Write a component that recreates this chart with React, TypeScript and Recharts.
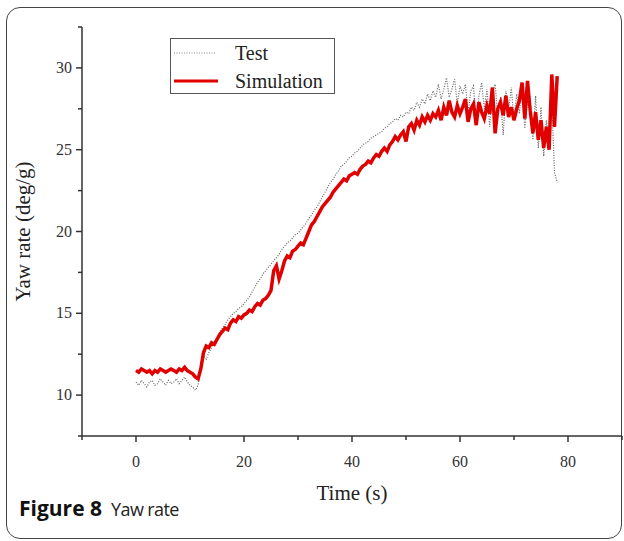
import React from 'react';
import { LineChart, Line, XAxis, YAxis } from 'recharts';

const time = [
  0, 0.5, 1, 1.5, 2, 2.5, 3, 3.5, 4, 4.5, 5, 5.5, 6, 6.5, 7, 7.5, 8, 8.5, 9, 9.5, 10,
  10.5, 11, 11.5, 12, 12.5, 13, 13.5, 14, 14.5, 15,
  15.5, 16, 16.5, 17, 17.5, 18, 18.5, 19, 19.5, 20,
  20.5, 21, 21.5, 22, 22.5, 23, 23.5, 24, 24.5, 25,
  25.5, 26, 26.5, 27, 27.5, 28, 28.5, 29, 29.5, 30,
  30.5, 31, 31.5, 32, 32.5, 33, 33.5, 34, 34.5, 35,
  35.5, 36, 36.5, 37, 37.5, 38, 38.5, 39, 39.5, 40,
  40.5, 41, 41.5, 42, 42.5, 43, 43.5, 44, 44.5, 45,
  45.5, 46, 46.5, 47, 47.5, 48, 48.5, 49, 49.5, 50,
  50.5, 51, 51.5, 52, 52.5, 53, 53.5, 54, 54.5, 55,
  55.5, 56, 56.5, 57, 57.5, 58, 58.5, 59, 59.5, 60,
  60.5, 61, 61.5, 62, 62.5, 63, 63.5, 64, 64.5, 65,
  65.5, 66, 66.5, 67, 67.5, 68, 68.5, 69, 69.5, 70,
  70.5, 71, 71.5, 72, 72.5, 73, 73.5, 74, 74.5, 75,
  75.5, 76, 76.5, 77, 77.5, 78,
];

const simulation = [
  11.5, 11.4, 11.6, 11.5, 11.4, 11.5, 11.3, 11.5, 11.4, 11.6, 11.5, 11.4, 11.5, 11.6, 11.5, 11.4, 11.6, 11.5, 11.7, 11.5, 11.4,
  11.3, 11.1, 11.0, 11.6, 12.6, 13.0, 12.9, 13.2, 13.1, 13.4,
  13.7, 13.9, 14.1, 14.0, 14.4, 14.6, 14.5, 14.8, 14.7, 14.9,
  15.0, 15.2, 15.1, 15.4, 15.6, 15.5, 15.8, 15.9, 16.1, 16.4,
  17.6, 17.9, 17.1, 17.6, 18.2, 18.5, 18.4, 18.8, 18.9, 19.1,
  19.3, 19.2, 19.6, 20.0, 20.4, 20.6, 20.9, 21.2, 21.5, 21.7,
  21.9, 22.1, 22.4, 22.6, 22.8, 23.0, 23.2, 23.1, 23.4, 23.5,
  23.6, 23.5, 23.8, 24.0, 24.1, 24.3, 24.2, 24.5, 24.7, 24.6,
  24.9, 25.1, 24.9, 25.3, 25.5, 25.8, 25.6, 25.9, 26.1, 25.5,
  26.4, 26.6, 26.2, 26.8, 26.5, 27.0, 26.7, 27.1, 26.8, 27.2,
  27.0, 27.4, 26.8, 27.6, 27.1, 28.0, 27.3, 27.0, 27.7, 27.2,
  27.6, 28.1, 26.7, 27.5, 27.8, 26.5, 27.9, 27.3, 26.9, 27.7,
  27.2, 28.8, 26.0, 27.5, 27.9, 27.1, 28.3, 27.0, 27.6, 26.8,
  27.5, 28.0, 29.1, 26.9, 29.2, 27.4, 26.0, 27.3, 25.6, 26.8,
  25.1, 26.4, 25.0, 29.6, 26.4, 29.5,
];

const test = [
  10.8, 10.6, 10.9, 10.7, 10.5, 10.8, 10.9, 10.6, 10.7, 11.0, 10.8, 10.6, 10.9, 10.7, 10.8, 11.0, 10.7, 10.9, 11.1, 10.8, 10.6,
  10.5, 10.3, 10.6, 11.8, 12.4, 12.2, 12.6, 12.9, 13.3, 13.5,
  13.8, 14.1, 14.3, 14.6, 14.8, 15.0, 15.1, 15.3, 15.4, 15.6,
  15.8, 16.0, 16.3, 16.6, 16.9, 17.1, 17.4, 17.6, 17.8, 18.0,
  18.2, 18.4, 18.6, 18.9, 19.1, 19.3, 19.4, 19.6, 19.8, 19.9,
  20.1, 20.3, 20.5, 20.8, 21.0, 21.3, 21.5, 21.8, 22.1, 22.4,
  22.7, 23.0, 23.2, 23.5, 23.7, 24.0, 24.1, 24.3, 24.5, 24.6,
  24.8, 24.9, 25.1, 25.3, 25.4, 25.5, 25.7, 25.8, 25.9, 26.0,
  26.1, 26.3, 26.4, 26.6, 26.7, 26.9, 26.8, 27.1, 27.0, 27.3,
  27.2, 27.6, 27.4, 27.9, 27.6, 28.1, 27.8, 28.4, 28.0, 28.6,
  28.2, 29.0, 28.1, 28.7, 29.4, 28.2, 28.7, 29.3, 27.8, 28.9,
  28.4, 29.0, 27.2, 28.6, 28.9, 26.6, 28.3, 29.1, 27.5, 28.7,
  26.4, 28.5, 29.0, 27.1, 28.2, 25.9, 28.6, 27.4, 28.8, 26.8,
  28.4, 27.2, 29.1, 26.3, 28.0, 27.5, 25.6, 28.3, 25.1, 27.6,
  24.6, 26.8, 25.3, 27.9, 23.6, 23.0,
];

const xTicks = [-10, 0, 10, 20, 30, 40, 50, 60, 70, 80, 90];
const xLabelled = [0, 20, 40, 60, 80];
const yTicks = [7.5, 10, 12.5, 15, 17.5, 20, 22.5, 25, 27.5, 30, 32.5];
const yLabelled = [10, 15, 20, 25, 30];
const seriesNames = ['Test', 'Simulation'];

const data = time.map((t, i) => ({ t, test: test[i], simulation: simulation[i] }));

const AXIS = '#333';
const TICK_FONT = '"Liberation Serif", "DejaVu Serif", serif';

const XTick = (props: any) => {
  const { x, y, payload } = props;
  const major = xLabelled.includes(payload.value);
  return (
    <g>
      <line x1={x} y1={y} x2={x} y2={y + (major ? 6 : 4)} stroke={AXIS} strokeWidth={1.5} />
      {major && (
        <text x={x} y={y + 31} textAnchor="middle" fontSize={16} fontFamily={TICK_FONT} fill="#333">
          {payload.value}
        </text>
      )}
    </g>
  );
};

const YTick = (props: any) => {
  const { x, y, payload } = props;
  const major = yLabelled.includes(payload.value);
  return (
    <g>
      <line x1={x} y1={y} x2={x - (major ? 6 : 4)} y2={y} stroke={AXIS} strokeWidth={1.5} />
      {major && (
        <text x={x - 10} y={y + 5} textAnchor="end" fontSize={16} fontFamily={TICK_FONT} fill="#333">
          {payload.value}
        </text>
      )}
    </g>
  );
};

const LegendBox = () => (
  <div
    style={{
      position: 'absolute',
      left: 170,
      top: 38,
      width: 165,
      height: 56,
      border: '1px solid #555',
      boxSizing: 'border-box',
      background: '#fff',
    }}
  >
    <svg width={165} height={56} style={{ position: 'absolute', left: 0, top: 0 }}>
      <line x1={3} y1={14} x2={45} y2={14} stroke="#888" strokeWidth={1} strokeDasharray="1 1.5" />
      <line x1={3} y1={42} x2={47} y2={42} stroke="#e00000" strokeWidth={3} />
      <text x={64} y={21} fontSize={20} fontFamily={TICK_FONT} fill="#222">{seriesNames[0]}</text>
      <text x={64} y={49} fontSize={20} fontFamily={TICK_FONT} fill="#222">{seriesNames[1]}</text>
    </svg>
  </div>
);

export default function App() {
  return (
    <div style={{ position: 'absolute', left: 0, top: 0, width: 624, height: 541, background: '#fff' }}>
      <div
        style={{
          position: 'absolute',
          left: 6,
          top: 7,
          width: 614,
          height: 530,
          border: '1px solid #444',
          borderRadius: 14,
        }}
      />
      <div style={{ position: 'absolute', left: 0, top: 0 }}>
        <LineChart width={624} height={541} data={data} margin={{ top: 27, right: 2, bottom: 55, left: 12 }}>
          <XAxis
            dataKey="t"
            type="number"
            domain={[-10, 90]}
            ticks={xTicks}
            interval={0}
            tickSize={0}
            tickMargin={0}
            tickLine={false}
            tick={<XTick />}
            height={50}
            axisLine={{ stroke: AXIS, strokeWidth: 1.5 }}
            allowDataOverflow
            label={{
              value: 'Time (s)',
              position: 'insideTop',
              offset: 49,
              style: { fontFamily: TICK_FONT, fontSize: 21, fill: '#222' },
            }}
          />
          <YAxis
            type="number"
            domain={[7.5, 32.5]}
            ticks={yTicks}
            interval={0}
            tickSize={0}
            tickMargin={0}
            tickLine={false}
            tick={<YTick />}
            width={70}
            axisLine={{ stroke: AXIS, strokeWidth: 1.5 }}
            allowDataOverflow
            label={{
              value: 'Yaw rate (deg/g)',
              angle: -90,
              position: 'insideLeft',
              offset: 11,
              style: { textAnchor: 'middle', fontFamily: TICK_FONT, fontSize: 21, fill: '#222' },
            }}
          />
          <Line
            type="linear"
            dataKey="test"
            name={seriesNames[0]}
            stroke="#666"
            strokeWidth={1.2}
            strokeDasharray="1 1.5"
            dot={false}
            isAnimationActive={false}
          />
          <Line
            type="linear"
            dataKey="simulation"
            name={seriesNames[1]}
            stroke="#e00000"
            strokeWidth={3.5}
            dot={false}
            isAnimationActive={false}
          />
        </LineChart>
      </div>
      <LegendBox />
      <div
        style={{
          position: 'absolute',
          left: 19,
          top: 498,
          lineHeight: '21px',
          fontFamily: '"Open Sans", "Noto Sans", sans-serif',
          fontSize: 21,
          color: '#111',
          whiteSpace: 'nowrap',
        }}
      >
        <span style={{ fontWeight: 700 }}>Figure 8</span>
        <span style={{ marginLeft: 9, fontSize: 18, letterSpacing: -0.6, color: '#222' }}>Yaw rate</span>
      </div>
    </div>
  );
}
